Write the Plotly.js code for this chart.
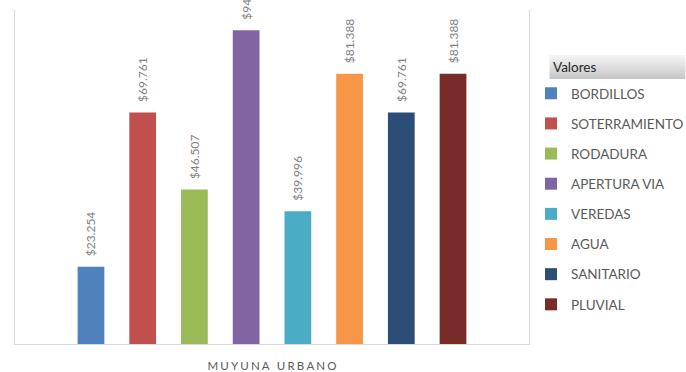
<!DOCTYPE html>
<html>
<head>
<meta charset="utf-8">
<script src="https://cdn.plot.ly/plotly-3.0.1.min.js"></script>
<style>html,body{margin:0;padding:0;background:#fff;}#chart{width:686px;height:372px;}</style>
</head>
<body>
<div id="chart"></div>
<script>
const category = "MUYUNA URBANO";
const categoryLabel = "M\u2009\u200AU\u2009\u200AY\u2009\u200AU\u2009\u200AN\u2009\u200AA\u2009\u2009\u2009\u2009\u2009U\u2009\u200AR\u2009\u200AB\u2009\u200AA\u2009\u200AN\u2009\u200AO";
const legendTitle = "Valores";
const seriesNames = ["BORDILLOS", "SOTERRAMIENTO", "RODADURA", "APERTURA VIA", "VEREDAS", "AGUA", "SANITARIO", "PLUVIAL"];
const seriesValues = [23254, 69761, 46507, 94500, 39996, 81388, 69761, 81388];
const seriesColors = ["#4f81bd", "#c0504d", "#9bbb59", "#8064a2", "#4bacc6", "#f79646", "#2c4d75", "#772c2a"];

const W = 686, H = 372;
const M = {l: 15, r: 156.5, t: 10, b: 28};
const plotH = H - M.t - M.b;
const plotW = W - M.l - M.r;
const py = p => (H - M.b - p) / plotH;
const px = p => (p - M.l) / plotW;

const traces = seriesNames.map((n, i) => ({
  type: "bar",
  name: n,
  legendgroup: "g" + i,
  x: [category],
  y: [seriesValues[i]],
  marker: {color: seriesColors[i]},
  texttemplate: "\u2002\u2009$%{y:,.0f}",
  textposition: "outside",
  textangle: -90,
  constraintext: "none",
  textfont: {family: "Lato, 'Open Sans', sans-serif", size: 12, color: "#7f7f7f"},
  cliponaxis: false,
  hoverinfo: "none"
}));

// header band of legend (gradient)
const shapes = [];
const hTop = 55, hBot = 79, steps = 12;
for (let k = 0; k < steps; k++) {
  const t = k / (steps - 1);
  const c = Math.round(244 - t * (244 - 200));
  shapes.push({
    type: "rect", xref: "paper", yref: "paper", layer: "below",
    x0: px(550), x1: px(686),
    y0: py(hTop + (hBot - hTop) * (k + 1) / steps), y1: py(hTop + (hBot - hTop) * k / steps),
    fillcolor: `rgb(${c},${c},${c})`, line: {width: 0}
  });
}

const layout = {
  width: W, height: H,
  margin: M,
  paper_bgcolor: "#ffffff",
  plot_bgcolor: "#ffffff",
  separators: ",.",
  barmode: "group",
  bargap: 0.195,
  bargroupgap: 0.483,
  showlegend: true,
  font: {family: "Lato, 'Open Sans', sans-serif", color: "#595959"},
  xaxis: {
    type: "category",
    range: [-0.5, 0.5],
    tickvals: [category],
    ticktext: [categoryLabel],
    tickfont: {size: 11.5, color: "#595959"},
    ticklabelstandoff: 11,
    showline: true, linecolor: "#d9d9d9", linewidth: 1,
    ticks: "", showgrid: false, zeroline: false, fixedrange: true
  },
  yaxis: {
    range: [0, 100600],
    showticklabels: false, showgrid: false, zeroline: false,
    showline: true, mirror: true, linecolor: "#d9d9d9", linewidth: 1,
    ticks: "", fixedrange: true
  },
  legend: {
    xref: "container", yref: "container",
    x: 531 / W, y: 1 - 78 / H,
    xanchor: "left", yanchor: "top",
    maxheight: 400,
    bgcolor: "rgba(0,0,0,0)",
    traceorder: "grouped",
    tracegroupgap: 9.6,
    font: {family: "Lato, 'Open Sans', sans-serif", size: 13.5, color: "#595959"},
    itemclick: false, itemdoubleclick: false
  },
  annotations: [{
    text: legendTitle, xref: "paper", yref: "paper",
    x: px(552), y: py(67), xanchor: "left", yanchor: "middle",
    showarrow: false,
    font: {family: "Lato, 'Open Sans', sans-serif", size: 13.5, color: "#262626"}
  }],
  shapes: shapes
};

Plotly.newPlot("chart", traces, layout, {displayModeBar: false, staticPlot: true});
</script>
</body>
</html>
